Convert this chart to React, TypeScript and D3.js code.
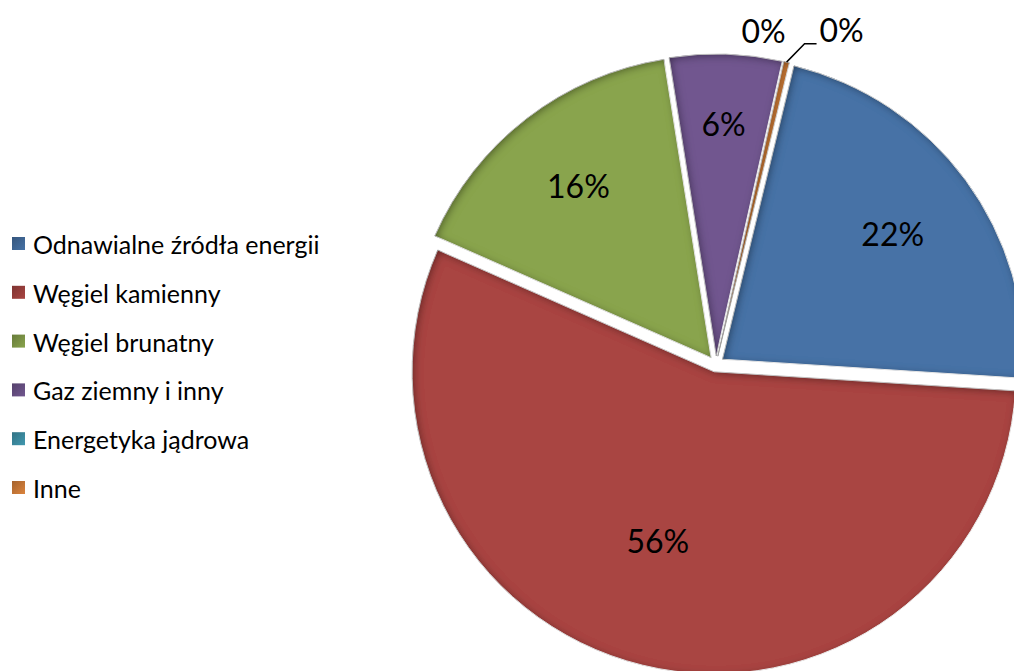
import React from "react";
import * as d3 from "d3";

const categories = [
  "Odnawialne źródła energii",
  "Węgiel kamienny",
  "Węgiel brunatny",
  "Gaz ziemny i inny",
  "Energetyka jądrowa",
  "Inne",
];
const values = [22.2, 55.6, 15.9, 6.0, 0.0, 0.3];
const labels = ["22%", "56%", "16%", "6%", "0%", "0%"];
const colors = ["#4672A6", "#A94542", "#89A44D", "#71578F", "#4198AF", "#DB843D"];
const labelRadius = [0.7, 0.59, 0.72, 0.77, 1.09, 1.1];

const W = 1014;
const H = 671;
const cx = 716;
const cy = 364;
const R = 302;
const explode = 8;
const startDeg = 13.7;
const FONT = "Lato, 'Open Sans', sans-serif";

export default function App() {
  const start = (startDeg * Math.PI) / 180;
  const pie = d3
    .pie<number>()
    .sort(null)
    .value((d) => d)
    .startAngle(start)
    .endAngle(start + 2 * Math.PI);
  const arcs = pie(values);
  const arc = d3.arc<d3.PieArcDatum<number>>().innerRadius(0).outerRadius(R);
  const polar = (a: number, r: number): [number, number] => [Math.sin(a) * r, -Math.cos(a) * r];

  const rowY = (i: number) => 244 + i * 48.8;

  return (
    <svg
      width={W}
      height={H}
      style={{ position: "absolute", left: 0, top: 0, background: "#fff" }}
    >
      <defs>
        <filter id="innerShadow" x="-10%" y="-10%" width="120%" height="120%">
          <feComponentTransfer in="SourceAlpha" result="inv">
            <feFuncA type="table" tableValues="1 0" />
          </feComponentTransfer>
          <feOffset in="inv" dx="2" dy="2" result="off" />
          <feGaussianBlur in="off" stdDeviation="4" result="blur" />
          <feFlood floodColor="#000" floodOpacity="0.75" result="flood" />
          <feComposite in="flood" in2="blur" operator="in" result="sh" />
          <feComposite in="sh" in2="SourceAlpha" operator="in" result="shadow" />
          <feMerge>
            <feMergeNode in="SourceGraphic" />
            <feMergeNode in="shadow" />
          </feMerge>
        </filter>
        {colors.map((c, i) => (
          <linearGradient key={i} id={`lg${i}`} x1="0" y1="0" x2="1" y2="1">
            <stop offset="0%" stopColor={d3.color(c)!.darker(0.8).toString()} />
            <stop offset="100%" stopColor={c} />
          </linearGradient>
        ))}
      </defs>

      <g>
        {arcs.map((a, i) => {
          if (a.endAngle - a.startAngle <= 0) return null;
          const mid = (a.startAngle + a.endAngle) / 2;
          const [ox, oy] = polar(mid, explode);
          return (
            <path
              key={i}
              d={arc(a) || ""}
              transform={`translate(${cx + ox},${cy + oy})`}
              fill={colors[i]}
              stroke="#fff"
              strokeWidth={1}
              filter="url(#innerShadow)"
            />
          );
        })}
      </g>

      {/* leader line for the last (Inne) slice */}
      {(() => {
        const a = arcs[5];
        const mid = (a.startAngle + a.endAngle) / 2;
        const [p0x, p0y] = polar(mid, R + explode);
        const [p1x, p1y] = polar(mid + (2.3 * Math.PI) / 180, R * labelRadius[5]);
        const x0 = cx + p0x, y0 = cy + p0y;
        const x1 = cx + p1x, y1 = cy + p1y;
        const x2 = x1 + 12;
        return (
          <g>
            <path d={`M${x0},${y0}L${x1},${y1}L${x2},${y1}`} fill="none" stroke="#000" strokeWidth={1.5} />
            <text x={x2 + 3} y={y1 - 10} fontFamily={FONT} fontSize={32} fill="#000" dominantBaseline="middle">
              {labels[5]}
            </text>
          </g>
        );
      })()}

      {arcs.map((a, i) => {
        if (i === 5) return null;
        let mid = (a.startAngle + a.endAngle) / 2;
        if (i === 4) mid -= (4.5 * Math.PI) / 180;
        if (i === 1) mid += (4.5 * Math.PI) / 180;
        const [ox, oy] = polar(mid, explode);
        const [lx, ly] = polar(mid, R * labelRadius[i]);
        return (
          <text
            key={i}
            x={cx + ox + lx}
            y={cy + oy + ly}
            fontFamily={FONT}
            fontSize={32}
            fill="#000"
            textAnchor="middle"
            dominantBaseline="central"
          >
            {labels[i]}
          </text>
        );
      })}

      <g>
        {categories.map((c, i) => (
          <g key={i}>
            <rect x={12} y={rowY(i) - 7} width={13} height={13} fill={`url(#lg${i})`} />
            <text
              x={33}
              y={rowY(i)}
              fontFamily={FONT}
              fontSize={25}
              fill="#000"
              dominantBaseline="central"
            >
              {c}
            </text>
          </g>
        ))}
      </g>
    </svg>
  );
}
